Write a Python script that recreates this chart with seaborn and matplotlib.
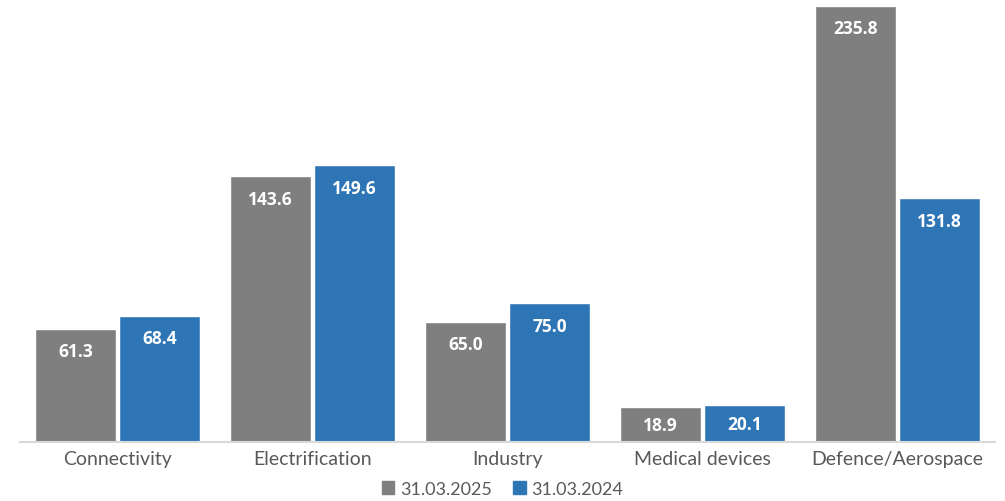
import numpy as np
import pandas as pd
import matplotlib
matplotlib.use('Agg')
import matplotlib.pyplot as plt
import seaborn as sns

# data
categories = ['Connectivity', 'Electrification', 'Industry', 'Medical devices', 'Defence/Aerospace']
values_2025 = [61.3, 143.6, 65.0, 18.9, 235.8]
values_2024 = [68.4, 149.6, 75.0, 20.1, 131.8]
series = ['31.03.2025', '31.03.2024']

df = pd.DataFrame({
    'category': categories * 2,
    'value': values_2025 + values_2024,
    'period': [series[0]] * 5 + [series[1]] * 5,
})

sns.set_style('white')
plt.rcParams['font.family'] = ['Lato', 'DejaVu Sans']

fig = plt.figure(figsize=(10.05, 5.02), dpi=100)
ax = fig.add_axes([20 / 1005, 59 / 502, 975 / 1005, 443 / 502])

palette = {series[0]: '#7f7f7f', series[1]: '#2e75b6'}
sns.barplot(data=df, x='category', y='value', hue='period', palette=palette,
            width=0.86, gap=0.04, saturation=1, ax=ax, legend=False)

ax.set_ylim(0, 239.6)
ax.set_xlim(-0.5, 4.5)
ax.set_xlabel('')
ax.set_ylabel('')
ax.set_yticks([])
for side in ['top', 'right', 'left']:
    ax.spines[side].set_visible(False)
ax.spines['bottom'].set_color('#d9d9d9')
ax.spines['bottom'].set_linewidth(1.5)
ax.tick_params(axis='x', length=0, pad=6, labelsize=14, labelcolor='#595959')

# value labels inside the bars
for cont in ax.containers:
    for bar in cont:
        h = bar.get_height()
        off = min(16, h * 1.849 * 0.72 / 2 + 0.5)
        ax.annotate(f'{h:.1f}', (bar.get_x() + bar.get_width() / 2, h),
                    xytext=(0, -off), textcoords='offset points',
                    ha='center', va='center', color='white',
                    fontsize=12.5, fontweight='bold', family=['Open Sans', 'DejaVu Sans'])

handles = [plt.Rectangle((0, 0), 1, 1, color=palette[s]) for s in series]
fig.legend(handles, series, loc='center', bbox_to_anchor=(0.5, 12 / 502),
           ncol=2, frameon=False, fontsize=13, handlelength=0.7, handleheight=0.7,
           handletextpad=0.3, columnspacing=1.2, labelcolor='#595959')

fig.savefig('out.png', dpi=100)
